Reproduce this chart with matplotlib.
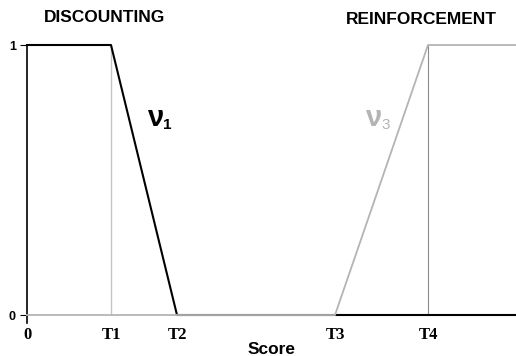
import numpy as np
import matplotlib.pyplot as plt

# score thresholds (arbitrary units)
x_ticks = [0, 84, 150, 308, 401]
x_labels = ['0', 'T1', 'T2', 'T3', 'T4']
x_max = 489

# discounting weight nu1 and reinforcement weight nu3
nu1_x = [0, 84, 150, 489]
nu1_y = [1, 1, 0, 0]
nu3_x = [0, 308, 401, 489]
nu3_y = [0, 0, 1, 1]

plt.rcParams['font.family'] = ['Liberation Sans', 'DejaVu Sans']

fig = plt.figure(figsize=(5.16, 3.56), dpi=100)
ax = fig.add_axes([27 / 516, 34.25 / 356, 489 / 516, 276.75 / 356])

ax.plot(nu1_x, nu1_y, color='black', lw=1.5, clip_on=False, zorder=3)
ax.plot(nu3_x, nu3_y, color='#b4b4b4', lw=1.3, clip_on=False, zorder=4)
ax.vlines(x_ticks[1], 0, 1, color='#c4c4c4', lw=1, zorder=2)
ax.vlines(x_ticks[4], 0, 1, color='#8a8a8a', lw=0.8, zorder=2)

ax.set_xlim(0, x_max)
ax.set_ylim(-0.025, 1)
for s in ['top', 'right', 'bottom']:
    ax.spines[s].set_visible(False)
ax.spines['left'].set_bounds(-0.03, 1)
ax.spines['left'].set_linewidth(1.2)

ax.set_yticks([0, 1])
ax.set_yticklabels(['0', '1'], fontsize=9, fontweight='bold')
ax.tick_params(axis='y', length=5, width=0.8, pad=3)
ax.set_xticks(x_ticks)
ax.set_xticklabels(x_labels, fontsize=12, fontweight='bold', family='Liberation Serif')
ax.tick_params(axis='x', length=0, pad=4)
ax.set_xlabel('Score', fontsize=12.5, fontweight='bold', labelpad=-1)

t1 = ax.text(120, 0.73, 'ν', fontsize=21, fontweight='bold', color='black', va='center')
ax.annotate('1', xy=(1, 0.1), xycoords=t1, fontsize=11, fontweight='bold', color='black')
t3 = ax.text(338, 0.73, 'ν', fontsize=21, fontweight='bold', color='#b4b4b4', va='center')
ax.annotate('3', xy=(1, 0.1), xycoords=t3, fontsize=11, color='#b4b4b4')

fig.text(105 / 516, 1 - 18 / 356, 'DISCOUNTING', fontsize=12.5, fontweight='bold', ha='center', va='center')
fig.text(421 / 516, 1 - 20 / 356, 'REINFORCEMENT', fontsize=12.5, fontweight='bold', ha='center', va='center')

fig.savefig('out.png', dpi=100)
